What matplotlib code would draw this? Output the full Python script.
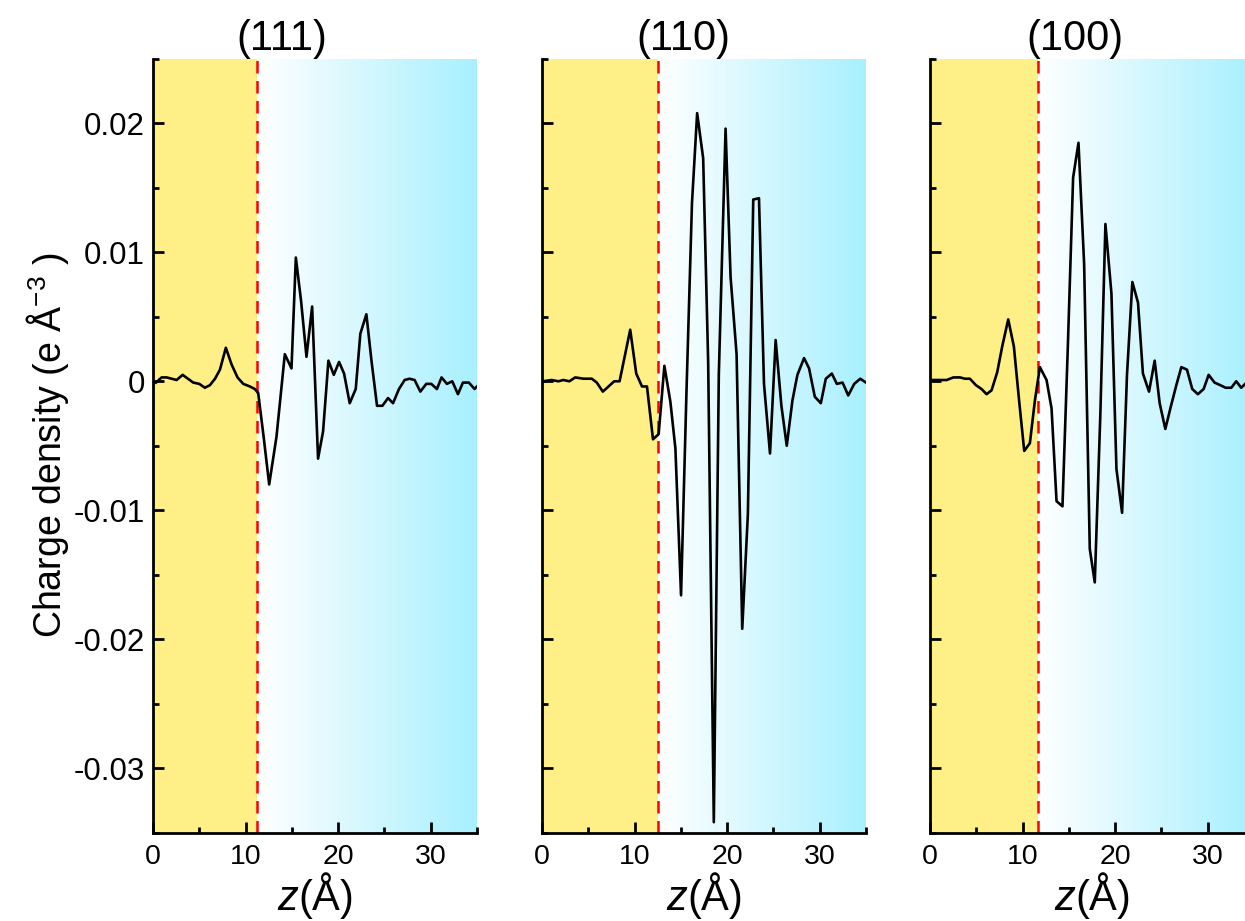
import numpy as np
import matplotlib
matplotlib.use("Agg")
import matplotlib.pyplot as plt
from matplotlib.ticker import MultipleLocator, FixedLocator, FixedFormatter

plt.rcParams['font.family'] = ['Liberation Sans', 'DejaVu Sans']
plt.rcParams['mathtext.fontset'] = 'custom'
plt.rcParams['mathtext.rm'] = 'Liberation Sans'
plt.rcParams['mathtext.it'] = 'Liberation Sans:italic'

# --- data ---
titles = ["(111)", "(110)", "(100)"]
interfaces = [11.25, 12.57, 11.68]

z_111 = [0.32, 0.93, 1.47, 2.55, 3.2, 4.35, 5.0, 5.6, 6.15, 6.7, 7.23, 7.87, 8.49, 9.13,
         9.75, 10.46, 11.0, 11.36, 11.95, 12.55, 13.34, 14.24, 14.96, 15.43, 16.0, 16.58,
         17.19, 17.83, 18.37, 18.95, 19.53, 20.1, 20.64, 21.25, 21.9, 22.4, 23.05, 23.6,
         24.2, 24.78, 25.39, 25.93, 26.57, 27.18, 27.72, 28.26, 28.88, 29.52, 30.06, 30.67,
         31.17, 31.75, 32.33, 32.94, 33.48, 34.12, 34.74, 35.0]
rho_111 = [-0.0001, 0.0003, 0.0003, 0.0001, 0.0005, -0.0001, -0.0002, -0.0005, -0.0003,
           0.0002, 0.0009, 0.0026, 0.0013, 0.0003, -0.0002, -0.0004, -0.0006, -0.0009,
           -0.0043, -0.0080, -0.0043, 0.0021, 0.0010, 0.0096, 0.0062, 0.0019, 0.0058,
           -0.0060, -0.0039, 0.0016, 0.0005, 0.0015, 0.0006, -0.0017, -0.0006, 0.0037,
           0.0052, 0.0016, -0.0019, -0.0019, -0.0013, -0.0017, -0.0006, 0.0001, 0.0002,
           0.0001, -0.0008, -0.0002, -0.0002, -0.0006, 0.0003, -0.0002, 0.0000, -0.0010,
           -0.0001, -0.0001, -0.0006, -0.0004]

z_110 = [0.1, 1.05, 1.77, 2.31, 2.96, 3.58, 4.48, 5.38, 5.92, 6.57, 7.19, 7.8, 8.38, 9.53,
         10.18, 10.8, 11.34, 11.99, 12.6, 13.22, 13.87, 14.41, 15.02, 15.6, 16.2, 16.76,
         17.41, 17.95, 18.56, 19.1, 19.83, 20.37, 21.02, 21.63, 22.24, 22.82, 23.44, 23.98,
         24.63, 25.24, 25.86, 26.44, 27.05, 27.59, 28.31, 28.85, 29.47, 30.12, 30.66, 31.31,
         31.85, 32.47, 33.08, 33.73, 34.38, 35.0]
rho_110 = [0.0, 0.0001, 0.0, 0.0001, 0.0, 0.0003, 0.0002, 0.0002, -0.0001, -0.0008, -0.0004,
           0.0, 0.0, 0.0040, 0.0006, -0.0004, -0.0004, -0.0045, -0.0041, 0.0012, -0.0016,
           -0.0052, -0.0166, -0.0010, 0.0138, 0.0208, 0.0173, 0.0015, -0.0342, 0.0005,
           0.0196, 0.0081, 0.0021, -0.0192, -0.0103, 0.0141, 0.0142, -0.0002, -0.0056,
           0.0032, -0.0019, -0.0050, -0.0015, 0.0005, 0.0018, 0.0010, -0.0012, -0.0017,
           0.0002, 0.0006, -0.0002, -0.0001, -0.0011, -0.0002, 0.0002, -0.0001]

z_100 = [0.17, 0.8, 1.8, 2.52, 3.24, 3.78, 4.31, 4.96, 5.57, 6.11, 6.65, 7.26, 7.8, 8.45,
         9.06, 9.64, 10.18, 10.79, 11.33, 11.87, 12.59, 13.13, 13.67, 14.31, 14.89, 15.46,
         16.04, 16.65, 17.26, 17.8, 18.4, 18.95, 19.6, 20.14, 20.75, 21.28, 21.86, 22.47,
         23.0, 23.66, 24.27, 24.81, 25.42, 26.0, 26.61, 27.15, 27.76, 28.33, 28.94, 29.56,
         30.1, 30.74, 31.36, 31.93, 32.55, 33.08, 33.62, 34.2, 34.8]
rho_100 = [0.0001, 0.0001, 0.0001, 0.0003, 0.0003, 0.0002, 0.0002, -0.0003, -0.0006, -0.0010,
           -0.0007, 0.0007, 0.0027, 0.0048, 0.0027, -0.0016, -0.0054, -0.0048, -0.0015,
           0.0011, 0.0001, -0.0021, -0.0093, -0.0097, 0.0027, 0.0158, 0.0185, 0.0091,
           -0.0130, -0.0156, -0.0026, 0.0122, 0.0068, -0.0068, -0.0102, 0.0005, 0.0077,
           0.0061, 0.0006, -0.0008, 0.0016, -0.0017, -0.0037, -0.0020, -0.0003, 0.0011,
           0.0009, -0.0006, -0.0010, -0.0006, 0.0005, -0.0001, -0.0003, -0.0005, -0.0005,
           0.0, -0.0005, -0.0001, 0.0]

zs = [z_111, z_110, z_100]
rhos = [rho_111, rho_110, rho_100]

ytick_vals = [-0.03, -0.02, -0.01, 0.0, 0.01, 0.02]
ytick_labels = ["-0.03", "-0.02", "-0.01", "0", "0.01", "0.02"]
xmax = 35
ylims = (-0.035, 0.025)

yellow = (254 / 255, 240 / 255, 134 / 255)
cyan = np.array([168, 240, 254]) / 255.0

W, H = 1245, 921
fig = plt.figure(figsize=(W / 100, H / 100), dpi=100)

lefts = [153, 542, 930]
ax_w = 324
top, bottom = 59, 832.5

for i in range(3):
    ax = fig.add_axes([lefts[i] / W, (H - bottom) / H, ax_w / W, (bottom - top) / H])
    zi = interfaces[i]

    # background: yellow slab + white->cyan vacuum gradient
    ax.axvspan(0, zi, color=yellow, lw=0, zorder=0)
    t = np.linspace(0, 1, 256)
    grad = np.ones((1, 256, 3)) * (1 - t)[None, :, None] + cyan[None, None, :] * t[None, :, None]
    ax.imshow(grad, extent=[zi, xmax, ylims[0], ylims[1]], aspect='auto', zorder=0,
              interpolation='bilinear')

    ax.axvline(zi, color='red', lw=1.8, linestyle=(0, (5, 3)), zorder=2)
    ax.plot(zs[i], rhos[i], color='black', lw=1.9, zorder=3)

    ax.set_xlim(0, xmax)
    ax.set_ylim(*ylims)

    for s in ['top', 'right']:
        ax.spines[s].set_visible(False)
    for s in ['left', 'bottom']:
        ax.spines[s].set_linewidth(2.0)

    ax.xaxis.set_major_locator(MultipleLocator(10))
    ax.xaxis.set_minor_locator(MultipleLocator(5))
    ax.yaxis.set_major_locator(FixedLocator(ytick_vals))
    ax.yaxis.set_minor_locator(MultipleLocator(0.005))
    ax.tick_params(which='major', direction='in', length=8, width=2.0)
    ax.tick_params(which='minor', direction='in', length=4.5, width=2.0)
    ax.tick_params(axis='x', labelsize=20.5, pad=8)
    ax.tick_params(axis='y', labelsize=22.5, pad=6)
    if i == 0:
        ax.yaxis.set_major_formatter(FixedFormatter(ytick_labels))
        ax.set_ylabel(r"Charge density (e Å$^{-3}$ )", fontsize=27, labelpad=2)
    else:
        ax.tick_params(axis='y', labelleft=False)

    ax.set_xlabel(r"$\mathit{z}$(Å)", fontsize=30, labelpad=0)
    tx = [0.398, 0.437, 0.448][i]
    ax.text(tx, 1.0, titles[i], transform=ax.transAxes, ha='center', va='bottom',
            fontsize=30)

fig.savefig("out.png", dpi=100)
